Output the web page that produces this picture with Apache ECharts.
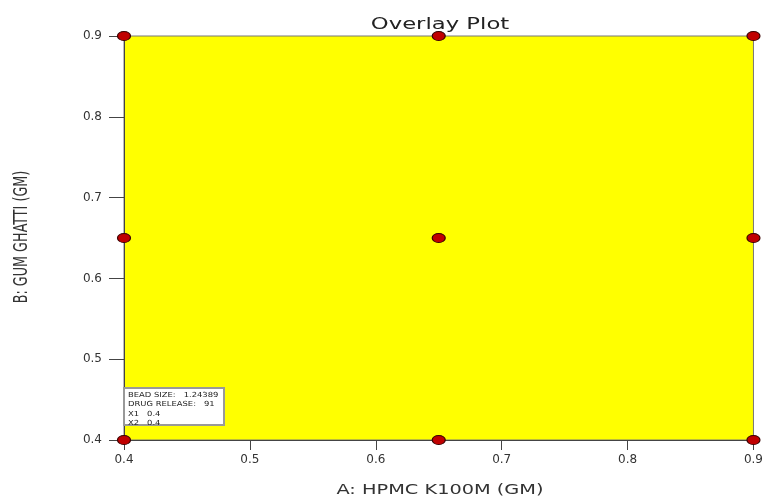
<!DOCTYPE html>
<html><head><meta charset="utf-8">
<script src="https://cdn.jsdelivr.net/npm/echarts@6/dist/echarts.min.js"></script>
<style>html,body{margin:0;padding:0;background:#fff}#c{width:766px;height:500px}</style>
</head><body><div id="c"></div>
<script>
const xTicks = [0.4, 0.5, 0.6, 0.7, 0.8, 0.9];
const yTicks = [0.4, 0.5, 0.6, 0.7, 0.8, 0.9];
const designX = [0.4, 0.4, 0.4, 0.65, 0.65, 0.65, 0.9, 0.9, 0.9];
const designY = [0.4, 0.65, 0.9, 0.4, 0.65, 0.9, 0.4, 0.65, 0.9];
const titleText = 'Overlay Plot';
const xName = 'A: HPMC K100M (GM)';
const yName = 'B: GUM GHATTI (GM)';
const flagLines = ['BEAD SIZE:   1.24389', 'DRUG RELEASE:   91', 'X1   0.4', 'X2   0.4'];

const chart = echarts.init(document.getElementById('c'));
const pts = designX.map((x, i) => [x, designY[i]]);
const fmt = list => v => { const r = Math.round(v * 10) / 10; return list.includes(r) ? String(r) : ''; };
chart.setOption({
  animation: false,
  grid: { left: 124, right: 10, top: 36, bottom: 60, show: true, backgroundColor: '#ffff00', borderColor: '#777', borderWidth: 1 },
  xAxis: { type: 'value', min: 0.4, max: 0.9, interval: 0.1,
    axisLine: { show: true, lineStyle: { color: '#444' } },
    axisTick: { show: true, length: 10, lineStyle: { color: '#444' } },
    splitLine: { show: false },
    axisLabel: { fontFamily: 'DejaVu Sans', fontSize: 12, color: '#333', margin: 14, formatter: fmt(xTicks) } },
  yAxis: { type: 'value', min: 0.4, max: 0.9, interval: 0.1,
    axisLine: { show: true, lineStyle: { color: '#444' } },
    axisTick: { show: true, length: 15, lineStyle: { color: '#444' } },
    splitLine: { show: false },
    axisLabel: { fontFamily: 'DejaVu Sans', fontSize: 12, color: '#333', margin: 22, formatter: fmt(yTicks) } },
  series: [{ type: 'scatter', data: pts, symbol: 'circle', symbolSize: [13, 9], clip: false, z: 5,
    itemStyle: { color: '#c00000', borderColor: '#3a0000', borderWidth: 1, opacity: 1 } }],
  graphic: [
    { type: 'text', x: 440, y: 25, scaleX: 1.42, z: 10,
      style: { text: titleText, x: 0, y: 0, align: 'center', verticalAlign: 'middle', font: '16px DejaVu Sans', fill: '#222' } },
    { type: 'text', x: 440, y: 490, scaleX: 1.38, z: 10,
      style: { text: xName, x: 0, y: 0, align: 'center', verticalAlign: 'middle', font: '14px DejaVu Sans', fill: '#333' } },
    { type: 'text', x: 22, y: 237, rotation: Math.PI / 2, scaleX: 0.71, z: 10,
      style: { text: yName, x: 0, y: 0, align: 'center', verticalAlign: 'middle', font: '20px "DejaVu Sans Condensed", "Liberation Sans Narrow"', fill: '#333' } },
    { type: 'rect', x: 124, y: 388, z: 10, shape: { x: 0, y: 0, width: 100, height: 37 }, style: { fill: '#fff', stroke: '#999', lineWidth: 2 } },
    { type: 'text', x: 128, y: 390, scaleX: 1.2, z: 11,
      style: { text: flagLines.join('\n'), x: 0, y: 0, font: '7px DejaVu Sans', fill: '#222', lineHeight: 9.5 } }
  ]
});
</script></body></html>
